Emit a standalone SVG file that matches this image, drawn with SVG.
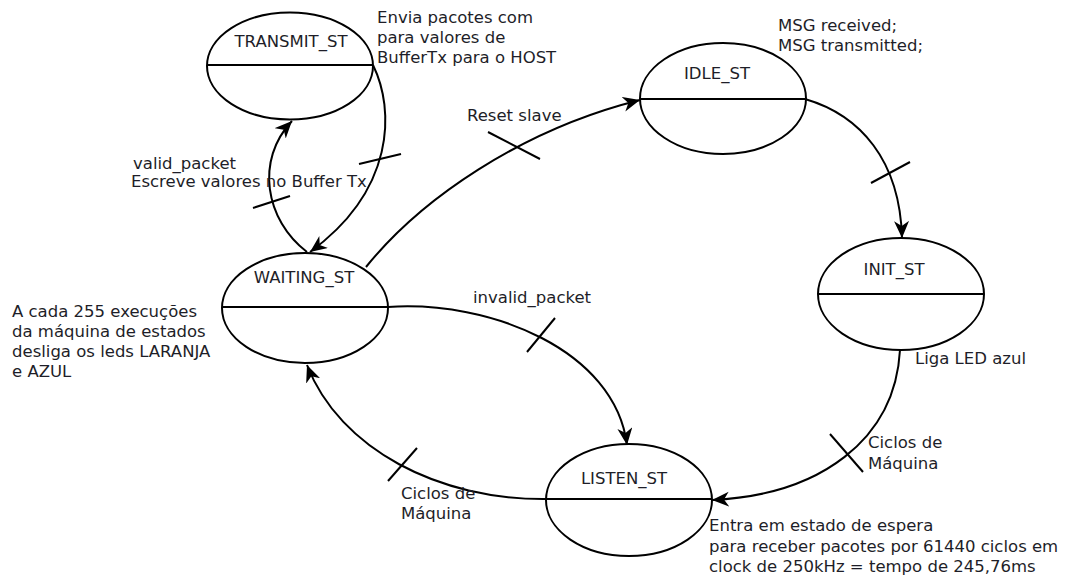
<svg xmlns="http://www.w3.org/2000/svg" width="1070" height="581" viewBox="0 0 1070 581">
  <style>
    .state { fill: #ffffff; stroke: #000000; stroke-width: 2; }
    .div { stroke: #000000; stroke-width: 2; }
    .edge { fill: none; stroke: #000000; stroke-width: 2; marker-end: url(#arrow); }
    .tick { stroke: #000000; stroke-width: 2; }
    text { font-family: "DejaVu Sans", "Noto Sans", sans-serif; font-size: 16.5px; fill: #1e1e28; }
    .name { text-anchor: middle; }
  </style>
  <defs>
    <marker id="arrow" markerUnits="userSpaceOnUse" markerWidth="20" markerHeight="16" refX="17" refY="7.5" orient="auto">
      <path d="M0,0 L17,7.5 L0,15 L5,7.5 z" fill="#000000"/>
    </marker>
  </defs>
  <rect width="1070" height="581" fill="#ffffff"/>

  <!-- transitions -->
  <g id="connectors">
    <path class="edge" d="M307,252 C265,220 255,160 292,121"/>
    <line class="tick" x1="253" y1="208" x2="290" y2="196"/>

    <path class="edge" d="M373,65 C395,110 395,190 310,252"/>
    <line class="tick" x1="359" y1="164" x2="401" y2="154"/>

    <path class="edge" d="M366,267 C420,200 520,130 640,100"/>
    <line class="tick" x1="488" y1="132" x2="540" y2="159"/>

    <path class="edge" d="M805,99 C860,115 900,160 902,238"/>
    <line class="tick" x1="871" y1="183" x2="910" y2="162"/>

    <path class="edge" d="M900,350 C895,440 820,495 712,500"/>
    <line class="tick" x1="830" y1="434" x2="863" y2="472"/>

    <path class="edge" d="M546,499 C440,500 340,450 307,365"/>
    <line class="tick" x1="388" y1="481" x2="417" y2="448"/>

    <path class="edge" d="M388,307 C490,300 615,350 627,445"/>
    <line class="tick" x1="527" y1="352" x2="555" y2="318"/>
  </g>

  <g id="transmit_st">
    <ellipse class="state" cx="290" cy="66" rx="83" ry="53.5"/>
    <line class="div" x1="207" y1="65" x2="373" y2="65"/>
    <text class="name" x="291" y="47">TRANSMIT_ST</text>
  </g>

  <g id="idle_st">
    <ellipse class="state" cx="723" cy="98.5" rx="83" ry="55.5"/>
    <line class="div" x1="640" y1="99" x2="806" y2="99"/>
    <text class="name" x="717" y="79">IDLE_ST</text>
  </g>

  <g id="init_st">
    <ellipse class="state" cx="901" cy="294" rx="83" ry="56"/>
    <line class="div" x1="818" y1="294" x2="984" y2="294"/>
    <text class="name" x="894" y="275">INIT_ST</text>
  </g>

  <g id="waiting_st">
    <ellipse class="state" cx="305" cy="308" rx="83" ry="55"/>
    <line class="div" x1="222" y1="307" x2="388" y2="307"/>
    <text class="name" x="304" y="283">WAITING_ST</text>
  </g>

  <g id="listen_st">
    <ellipse class="state" cx="629" cy="500" rx="83" ry="56"/>
    <line class="div" x1="546" y1="499" x2="712" y2="499"/>
    <text class="name" x="624" y="484">LISTEN_ST</text>
  </g>

  <!-- annotations -->
  <g id="labels">
    <text x="377" y="23">Envia pacotes com</text>
    <text x="377" y="43">para valores de</text>
    <text x="377" y="63">BufferTx para o HOST</text>

    <text x="778" y="31">MSG received;</text>
    <text x="778" y="51">MSG transmitted;</text>

    <text x="467" y="121">Reset slave</text>

    <text x="133" y="169">valid_packet</text>
    <text x="131" y="187">Escreve valores no Buffer Tx</text>

    <text x="12" y="317">A cada 255 execuções</text>
    <text x="12" y="337">da máquina de estados</text>
    <text x="12" y="357">desliga os leds LARANJA</text>
    <text x="12" y="377">e AZUL</text>

    <text x="473" y="303">invalid_packet</text>

    <text x="915" y="364">Liga LED azul</text>

    <text x="868" y="448">Ciclos de</text>
    <text x="868" y="469">Máquina</text>

    <text x="401" y="499">Ciclos de</text>
    <text x="401" y="519">Máquina</text>

    <text x="709" y="531">Entra em estado de espera</text>
    <text x="709" y="552">para receber pacotes por 61440 ciclos em</text>
    <text x="709" y="572">clock de 250kHz = tempo de 245,76ms</text>
  </g>
</svg>
